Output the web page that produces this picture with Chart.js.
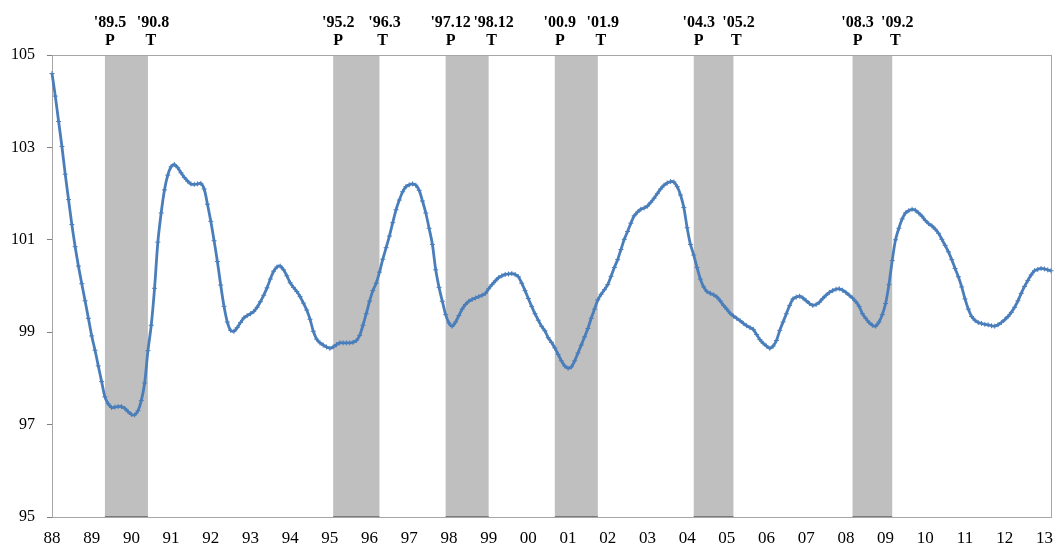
<!DOCTYPE html>
<html>
<head>
<meta charset="utf-8">
<script src="https://cdn.jsdelivr.net/npm/chart.js@4.4.0/dist/chart.umd.min.js"></script>
<style>
  body { margin: 0; background: #fff; }
  #wrap { width: 1058px; height: 546px; }
</style>
</head>
<body>
<div id="wrap"><canvas id="cycle" width="1058" height="546"></canvas></div>
<script>
// monthly index, Jan 1988 .. Mar 2013
const values = [
  104.60, 104.11, 103.56, 103.02, 102.42, 101.87, 101.33, 100.85, 100.43, 100.05, 99.68, 99.30,
  98.92, 98.61, 98.27, 97.93, 97.60, 97.45, 97.37, 97.38, 97.39, 97.39, 97.35, 97.28,
  97.22, 97.21, 97.30, 97.52, 97.90, 98.60, 99.15, 99.95, 100.95, 101.58, 102.08, 102.40,
  102.58, 102.63, 102.56, 102.45, 102.35, 102.27, 102.21, 102.20, 102.21, 102.22, 102.10, 101.77,
  101.40, 100.98, 100.53, 100.02, 99.56, 99.22, 99.04, 99.02, 99.10, 99.21, 99.31, 99.36,
  99.40, 99.45, 99.54, 99.66, 99.80, 99.96, 100.15, 100.32, 100.41, 100.43, 100.35, 100.22,
  100.07, 99.97, 99.88, 99.77, 99.63, 99.48, 99.28, 99.02, 98.85, 98.77, 98.72, 98.68,
  98.65, 98.68, 98.73, 98.77, 98.77, 98.77, 98.77, 98.78, 98.82, 98.93, 99.15, 99.40,
  99.67, 99.90, 100.06, 100.30, 100.58, 100.83, 101.08, 101.37, 101.65, 101.86, 102.04, 102.15,
  102.19, 102.21, 102.18, 102.07, 101.84, 101.58, 101.25, 100.90, 100.35, 99.97, 99.67, 99.38,
  99.20, 99.13, 99.22, 99.36, 99.50, 99.60, 99.67, 99.71, 99.74, 99.77, 99.80, 99.84,
  99.94, 100.03, 100.11, 100.18, 100.22, 100.25, 100.26, 100.27, 100.25, 100.20, 100.06, 99.90,
  99.73, 99.56, 99.40, 99.26, 99.13, 99.03, 98.88, 98.78, 98.66, 98.52, 98.38, 98.27,
  98.22, 98.25, 98.38, 98.55, 98.72, 98.90, 99.08, 99.30, 99.50, 99.70, 99.82, 99.92,
  100.03, 100.21, 100.40, 100.57, 100.79, 101.01, 101.18, 101.36, 101.52, 101.60, 101.66, 101.69,
  101.73, 101.81, 101.90, 102.00, 102.10, 102.18, 102.23, 102.26, 102.25, 102.15, 101.97, 101.70,
  101.26, 100.90, 100.67, 100.40, 100.15, 99.98, 99.88, 99.84, 99.81, 99.76, 99.68, 99.58,
  99.50, 99.41, 99.35, 99.30, 99.25, 99.19, 99.14, 99.10, 99.06, 98.95, 98.84, 98.76,
  98.70, 98.65, 98.70, 98.82, 99.04, 99.22, 99.40, 99.58, 99.72, 99.76, 99.78, 99.74,
  99.68, 99.62, 99.58, 99.60, 99.65, 99.73, 99.80, 99.86, 99.90, 99.93, 99.94, 99.91,
  99.86, 99.80, 99.74, 99.66, 99.56, 99.40, 99.30, 99.21, 99.15, 99.13, 99.22, 99.38,
  99.62, 100.03, 100.55, 101.00, 101.25, 101.45, 101.58, 101.63, 101.66, 101.64, 101.58, 101.51,
  101.42, 101.35, 101.30, 101.23, 101.14, 101.01, 100.88, 100.74, 100.57, 100.38, 100.20, 99.98,
  99.72, 99.50, 99.34, 99.26, 99.21, 99.19, 99.17, 99.16, 99.14, 99.13, 99.16, 99.21,
  99.27, 99.34, 99.43, 99.54, 99.68, 99.84, 99.99, 100.12, 100.24, 100.33, 100.36, 100.38,
  100.37, 100.35, 100.33
];

const yearLabels = ['88','89','90','91','92','93','94','95','96','97','98','99','00',
  '01','02','03','04','05','06','07','08','09','10','11','12','13'];

// shaded recessions: first month in, first month out
const shadeFrom = ['1989-05', '1995-02', '1997-12', '2000-09', '2004-03', '2008-03'];
const shadeTo   = ['1990-06', '1996-04', '1999-01', '2001-10', '2005-03', '2009-03'];
const peakLabels   = ["'89.5", "'95.2", "'97.12", "'00.9", "'04.3", "'08.3"];
const troughLabels = ["'90.8", "'96.3", "'98.12", "'01.9", "'05.2", "'09.2"];

const months = [];
for (let i = 0; i < values.length; i++) {
  const y = 1988 + Math.floor(i / 12), m = (i % 12) + 1;
  months.push(y + '-' + String(m).padStart(2, '0'));
}
const monthIdx = s => months.indexOf(s);

Chart.defaults.font.family = "'Liberation Serif', 'Times New Roman', serif";
Chart.defaults.color = '#000';

const shading = {
  id: 'shading',
  beforeDatasetsDraw(chart) {
    const { ctx, chartArea: a, scales: { x } } = chart;
    ctx.save();
    shadeFrom.forEach((f, k) => {
      const x1 = x.getPixelForValue(monthIdx(f));
      const x2 = x.getPixelForValue(monthIdx(shadeTo[k]));
      ctx.fillStyle = '#bfbfbf';
      ctx.fillRect(x1, a.top, x2 - x1, a.bottom - a.top);
      ctx.fillStyle = '#7a7a7a';
      ctx.fillRect(x1, a.bottom - 1, x2 - x1, 2);
    });
    // frame
    ctx.strokeStyle = '#a6a6a6';
    ctx.lineWidth = 1;
    ctx.strokeRect(a.left + 0.5, a.top + 0.5, a.right - a.left, a.bottom - a.top);
    ctx.restore();
  },
  afterDraw(chart) {
    const { ctx, scales: { x } } = chart;
    ctx.save();
    ctx.fillStyle = '#000';
    ctx.textAlign = 'center';
    ctx.textBaseline = 'middle';
    ctx.font = "bold 16px 'Liberation Serif'";
    shadeFrom.forEach((f, k) => {
      const xp = x.getPixelForValue(monthIdx(f));
      const xt = x.getPixelForValue(monthIdx(shadeTo[k]));
      ctx.fillText(peakLabels[k], xp + 5, 23);
      ctx.fillText('P', xp + 5, 41);
      ctx.fillText(troughLabels[k], xt + 5, 23);
      ctx.fillText('T', xt + 3, 41);
    });
    ctx.restore();
  }
};

new Chart(document.getElementById('cycle').getContext('2d'), {
  type: 'line',
  data: {
    labels: months,
    datasets: [{
      data: values,
      borderColor: '#4a7ebb',
      backgroundColor: '#4a7ebb',
      borderWidth: 2.8,
      tension: 0.3,
      pointStyle: 'cross',
      pointRadius: 2.5,
      pointBorderWidth: 1,
      pointBorderColor: '#4a7ebb',
      fill: false
    }]
  },
  options: {
    responsive: false,
    animation: false,
    layout: { padding: { top: 55, right: 7, left: 0, bottom: 0 } },
    plugins: { legend: { display: false }, tooltip: { enabled: false } },
    scales: {
      x: {
        offset: false,
        afterFit: s => { s.height = 29; s.paddingLeft = 0; s.paddingRight = 0; },
        grid: { display: false, drawTicks: false },
        border: { display: true, color: '#808080', width: 1 },
        ticks: {
          autoSkip: false,
          maxRotation: 0,
          padding: 11,
          font: { size: 17 },
          callback: (v, i) => (i % 12 === 0 ? yearLabels[i / 12] : '')
        }
      },
      y: {
        min: 95,
        max: 105,
        afterFit: s => { s.width = 52; s.paddingTop = 0; s.paddingBottom = 0; },
        grid: { drawOnChartArea: false, drawTicks: true, tickLength: 5, color: '#808080' },
        border: { display: true, color: '#808080', width: 1 },
        ticks: { stepSize: 2, padding: 12, font: { size: 16 } }
      }
    }
  },
  plugins: [shading]
});
</script>
</body>
</html>
